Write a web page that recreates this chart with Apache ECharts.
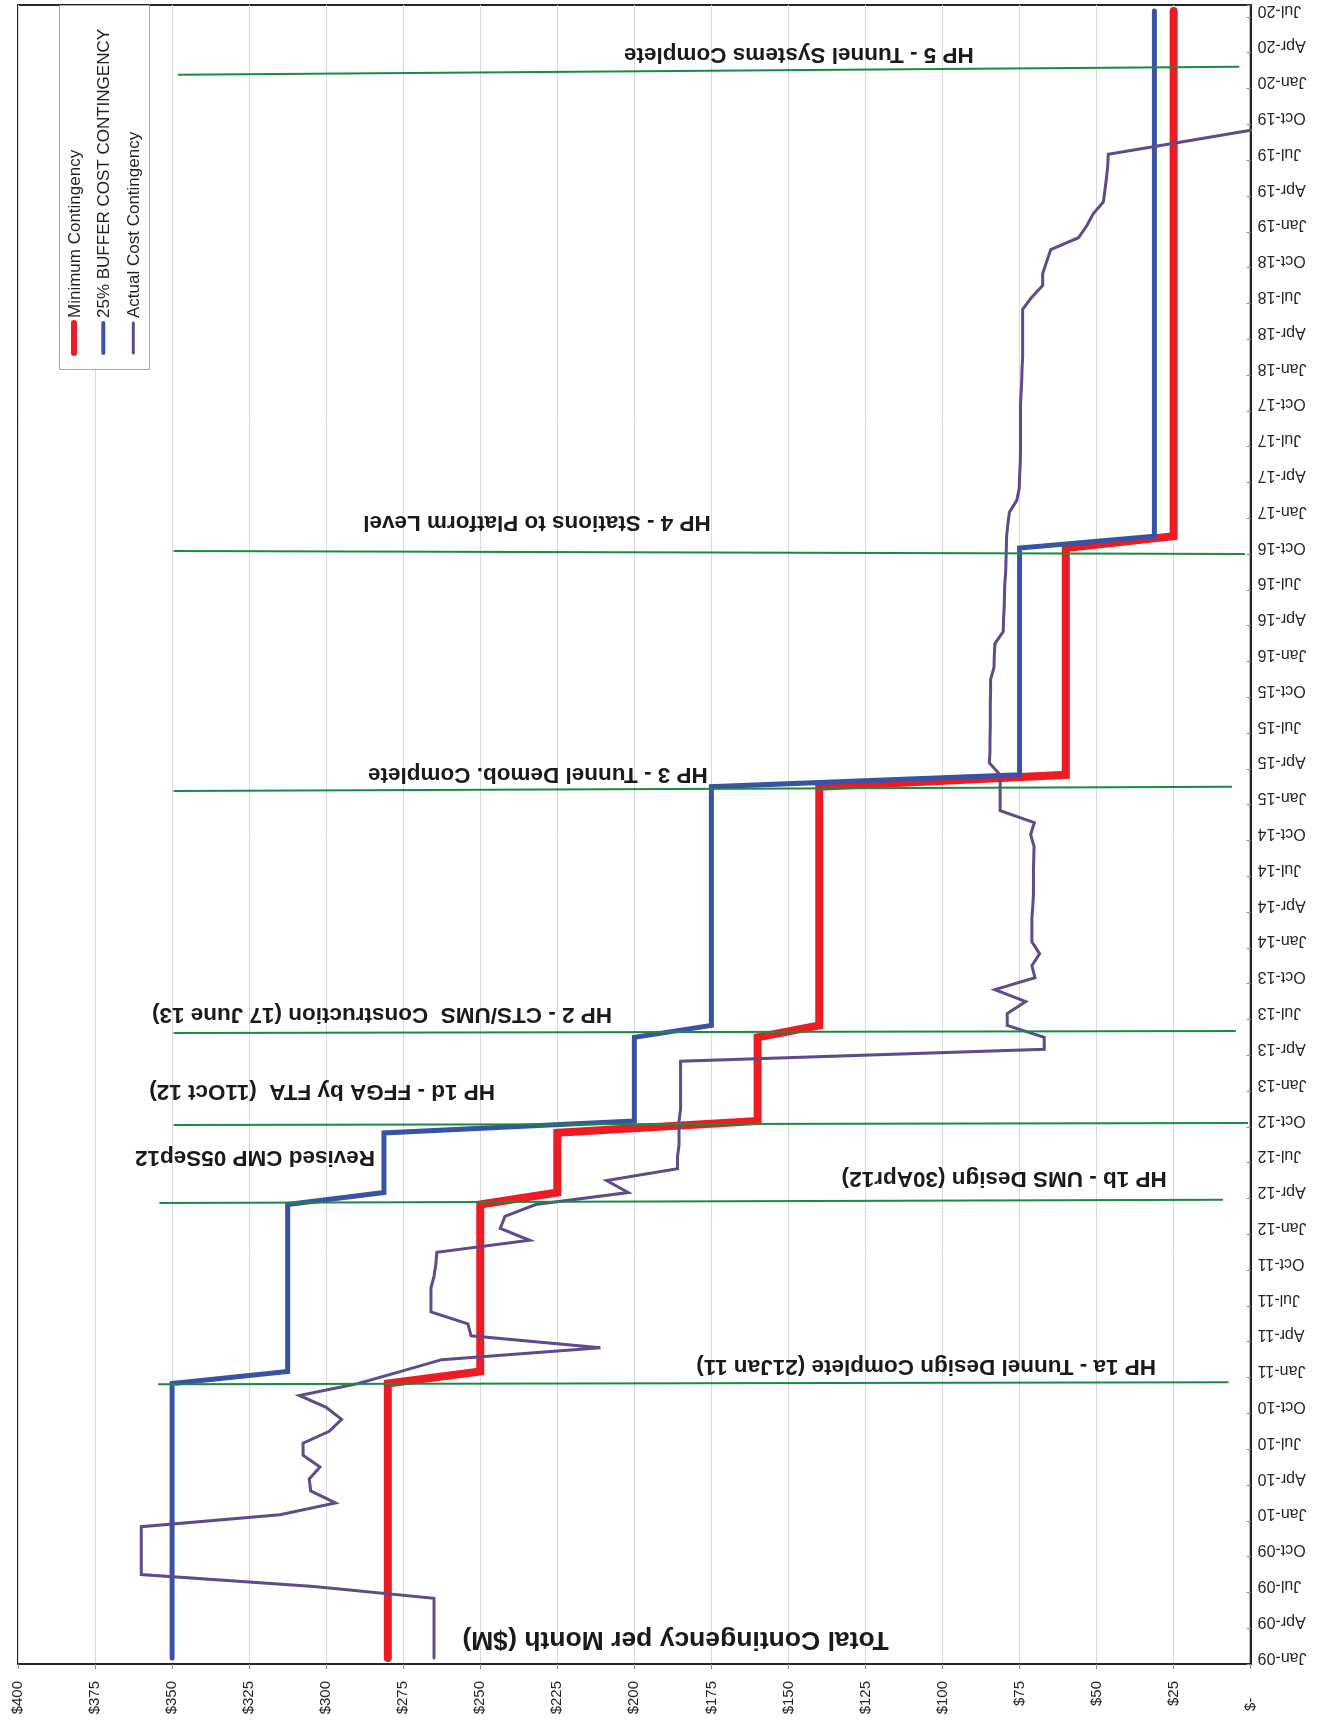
<!DOCTYPE html>
<html>
<head>
<meta charset="utf-8">
<title>Total Contingency per Month</title>
<script src="https://cdn.jsdelivr.net/npm/echarts@6/dist/echarts.min.js"></script>
<style>
  html, body { margin: 0; padding: 0; background: #fff; }
  #chart { width: 1325px; height: 1723px; }
</style>
</head>
<body>
<div id="chart"></div>
<script>
// month axis: 0 = Jan-09, one unit per month, points sit mid-month
const quarterLabels = [
    'Jan-09', 'Apr-09', 'Jul-09', 'Oct-09', 'Jan-10', 'Apr-10', 'Jul-10', 'Oct-10',
    'Jan-11', 'Apr-11', 'Jul-11', 'Oct-11', 'Jan-12', 'Apr-12', 'Jul-12', 'Oct-12',
    'Jan-13', 'Apr-13', 'Jul-13', 'Oct-13', 'Jan-14', 'Apr-14', 'Jul-14', 'Oct-14',
    'Jan-15', 'Apr-15', 'Jul-15', 'Oct-15', 'Jan-16', 'Apr-16', 'Jul-16', 'Oct-16',
    'Jan-17', 'Apr-17', 'Jul-17', 'Oct-17', 'Jan-18', 'Apr-18', 'Jul-18', 'Oct-18',
    'Jan-19', 'Apr-19', 'Jul-19', 'Oct-19', 'Jan-20', 'Apr-20', 'Jul-20'
]

// one value per month, Jan-09 onwards ($M)
const minimumContingency = [
    280, 280, 280, 280, 280, 280, 280, 280, 280, 280, 280, 280,
    280, 280, 280, 280, 280, 280, 280, 280, 280, 280, 280, 280,
    250, 250, 250, 250, 250, 250, 250, 250, 250, 250, 250, 250,
    250, 250, 250, 225, 225, 225, 225, 225, 225, 160, 160, 160,
    160, 160, 160, 160, 160, 140, 140, 140, 140, 140, 140, 140,
    140, 140, 140, 140, 140, 140, 140, 140, 140, 140, 140, 140,
    140, 140, 60, 60, 60, 60, 60, 60, 60, 60, 60, 60,
    60, 60, 60, 60, 60, 60, 60, 60, 60, 60, 25, 25,
    25, 25, 25, 25, 25, 25, 25, 25, 25, 25, 25, 25,
    25, 25, 25, 25, 25, 25, 25, 25, 25, 25, 25, 25,
    25, 25, 25, 25, 25, 25, 25, 25, 25, 25, 25, 25,
    25, 25, 25, 25, 25, 25, 25
]

const bufferContingency = [
    350, 350, 350, 350, 350, 350, 350, 350, 350, 350, 350, 350,
    350, 350, 350, 350, 350, 350, 350, 350, 350, 350, 350, 350,
    312.5, 312.5, 312.5, 312.5, 312.5, 312.5, 312.5, 312.5, 312.5, 312.5, 312.5, 312.5,
    312.5, 312.5, 312.5, 281.25, 281.25, 281.25, 281.25, 281.25, 281.25, 200, 200, 200,
    200, 200, 200, 200, 200, 175, 175, 175, 175, 175, 175, 175,
    175, 175, 175, 175, 175, 175, 175, 175, 175, 175, 175, 175,
    175, 175, 75, 75, 75, 75, 75, 75, 75, 75, 75, 75,
    75, 75, 75, 75, 75, 75, 75, 75, 75, 75, 31.25, 31.25,
    31.25, 31.25, 31.25, 31.25, 31.25, 31.25, 31.25, 31.25, 31.25, 31.25, 31.25, 31.25,
    31.25, 31.25, 31.25, 31.25, 31.25, 31.25, 31.25, 31.25, 31.25, 31.25, 31.25, 31.25,
    31.25, 31.25, 31.25, 31.25, 31.25, 31.25, 31.25, 31.25, 31.25, 31.25, 31.25, 31.25,
    31.25, 31.25, 31.25, 31.25, 31.25, 31.25, 31.25
]

const actualContingency = [
    265, 265, 265, 265, 265, 265, 304, 360, 360, 360, 360, 360,
    315, 297, 305, 305.5, 302, 307.5, 307.5, 299, 295, 300, 308.7, 289.6,
    276, 262.5, 211, 253, 254, 266, 266, 266, 265, 264.4, 264.1, 234,
    243.5, 242, 232, 202, 209, 186, 186, 185.5, 185.5, 185.5, 185, 185,
    185, 185, 185, 67, 67, 79, 79, 73, 83, 70, 71, 68.5,
    71, 71, 71, 70.7, 70.5, 70.5, 70.5, 70.4, 70.3, 71.4, 70.2, 81.3,
    81.3, 81.3, 81.3, 84.8, 84.6, 84.6, 84.5, 84.5, 84.5, 84.4, 84.4, 83.3,
    83.2, 83, 80.3, 80.2, 80, 79.9, 79.8, 79.5, 79.4, 79.3, 79.2, 78.8,
    78.3, 75.9, 75.1, 75, 74.8, 74.7, 74.7, 74.7, 74.7, 74.7, 74.5, 74.3,
    74.2, 74, 74, 74, 74, 74, 71.1, 67.5, 67.5, 66.2, 64.9, 55.9,
    53.2, 51.1, 47.8, 47.3, 46.8, 46.4, 46.2, 23, 0
]

// hand drawn milestone lines: [$ start, month start, $ end, month end]
const milestoneLines = [
    [354.5, 23.43, 7.2, 23.61],
    [354.1, 38.63, 9.0, 38.89],
    [349.5, 45.16, 0.9, 45.33],
    [349.5, 52.87, 4.8, 53.04],
    [349.5, 73.15, 6.1, 73.51],
    [349.5, 93.25, 1.9, 93.0],
    [348.1, 133.16, 3.7, 133.83]
]

const milestoneNotes = [
    'HP 1a - Tunnel Design Complete (21Jan 11)',
    'HP 1b - UMS Design (30Apr12)',
    'Revised CMP 05Sep12',
    'HP 1d - FFGA by FTA  (11Oct 12)',
    'HP 2 - CTS/UMS  Construction (17 June 13)',
    'HP 3 - Tunnel Demob. Complete',
    'HP 4 - Stations to Platform Level',
    'HP 5 - Tunnel Systems Complete'
]

const seriesNames = ['Minimum Contingency', '25% BUFFER COST CONTINGENCY', 'Actual Cost Contingency']
const seriesColors = ['#ed1c24', '#3953a4', '#5f4b8b']
const seriesWidths = [8, 5, 3]
const legendWidths = [6, 4, 3]

const FONT = '"Liberation Sans", Arial, Helvetica, sans-serif'

const toPoints = values => values.map((v, i) => [v, i + 0.5])

const chart = echarts.init(document.getElementById('chart'))

const lineSeries = [minimumContingency, bufferContingency, actualContingency].map((values, i) => ({
    name: seriesNames[i],
    type: 'line',
    data: toPoints(values),
    symbol: 'none',
    silent: true,
    z: 3 + i,
    lineStyle: {color: seriesColors[i], width: seriesWidths[i], cap: 'round', join: 'miter'}
}))

const greenSeries = milestoneLines.map(l => ({
    type: 'line',
    data: [[l[0], l[1]], [l[2], l[3]]],
    symbol: 'none',
    silent: true,
    z: 8,
    lineStyle: {color: '#1b8a3f', width: 2}
}))

chart.setOption({
    animation: false,
    backgroundColor: '#fff',
    grid: {
        left: 18, right: 74.3, top: 5, bottom: 59,
        show: true, borderColor: '#262626', borderWidth: 2,
        containLabel: false, outerBoundsMode: 'none'
    },
    xAxis: {
        type: 'value', min: 0, max: 400, interval: 25, inverse: true, position: 'bottom',
        axisLine: {show: true, onZero: false, lineStyle: {color: '#262626', width: 2}},
        axisTick: {show: true, inside: false, length: 5, lineStyle: {color: '#8c8c8c'}},
        splitLine: {show: true, lineStyle: {color: '#d9d9d9', width: 1}},
        axisLabel: {
            rotate: 90, margin: 17, fontSize: 15, color: '#262626', fontFamily: FONT,
            formatter: v => v === 0 ? '$-\u2007\u2007' : '$' + v
        }
    },
    yAxis: {
        type: 'value', min: 0, max: 139, interval: 3, position: 'right',
        axisLine: {show: true, onZero: false, lineStyle: {color: '#262626', width: 2}},
        axisTick: {show: true, inside: true, length: 4, lineStyle: {color: '#8c8c8c'}},
        splitLine: {show: false},
        axisLabel: {
            rotate: 180, margin: 7, fontSize: 16, color: '#262626', fontFamily: FONT,
            verticalAlign: 'top', lineHeight: 14,
            formatter: v => quarterLabels[v / 3] || ''
        }
    },
    series: lineSeries.concat(greenSeries)
})

// label anchors, in $ and months
const noteAnchors = [
    [105.3, 24.93], [80.0, 40.72], [323.1, 42.44], [301.3, 47.97],
    [281.9, 54.46], [231.3, 74.57], [231.6, 95.68], [146.6, 134.9]
]

const px = (v, m) => chart.convertToPixel({gridIndex: 0}, [v, m])

const upsideDown = (text, pos, size) => ({
    type: 'text', x: pos[0], y: pos[1], rotation: Math.PI, z: 100, silent: true,
    style: {
        text: text, fontSize: size, fontWeight: 'bold', fontFamily: FONT, fill: '#1a1a1a',
        align: 'center', verticalAlign: 'middle', textAlign: 'center', textVerticalAlign: 'middle'
    }
})

const graphics = milestoneNotes.map((t, i) => upsideDown(t, px(noteAnchors[i][0], noteAnchors[i][1]), 22.5))
graphics.push(upsideDown('Total Contingency per Month ($M)', px(186.6, 2.09), 26.5))

// legend box, drawn sideways like the rest of the picture
const legendX = [74, 103.3, 133.3]
const legendChildren = [{
    type: 'rect', shape: {x: 59.5, y: 5.5, width: 90, height: 364},
    style: {fill: '#fff', stroke: '#a6a6a6', lineWidth: 1}
}]
seriesNames.forEach((name, i) => {
    legendChildren.push({
        type: 'line', shape: {x1: legendX[i], y1: 353, x2: legendX[i], y2: 323},
        style: {stroke: seriesColors[i], lineWidth: legendWidths[i], lineCap: 'round'}
    })
    legendChildren.push({
        type: 'text', x: legendX[i] + 1, y: 318, rotation: Math.PI / 2,
        style: {
            text: name, fontSize: 17, fontFamily: FONT, fill: '#231f20',
            align: 'left', verticalAlign: 'middle', textAlign: 'left', textVerticalAlign: 'middle'
        }
    })
})
graphics.push({type: 'group', z: 100, silent: true, children: legendChildren})

chart.setOption({graphic: graphics})
</script>
</body>
</html>
